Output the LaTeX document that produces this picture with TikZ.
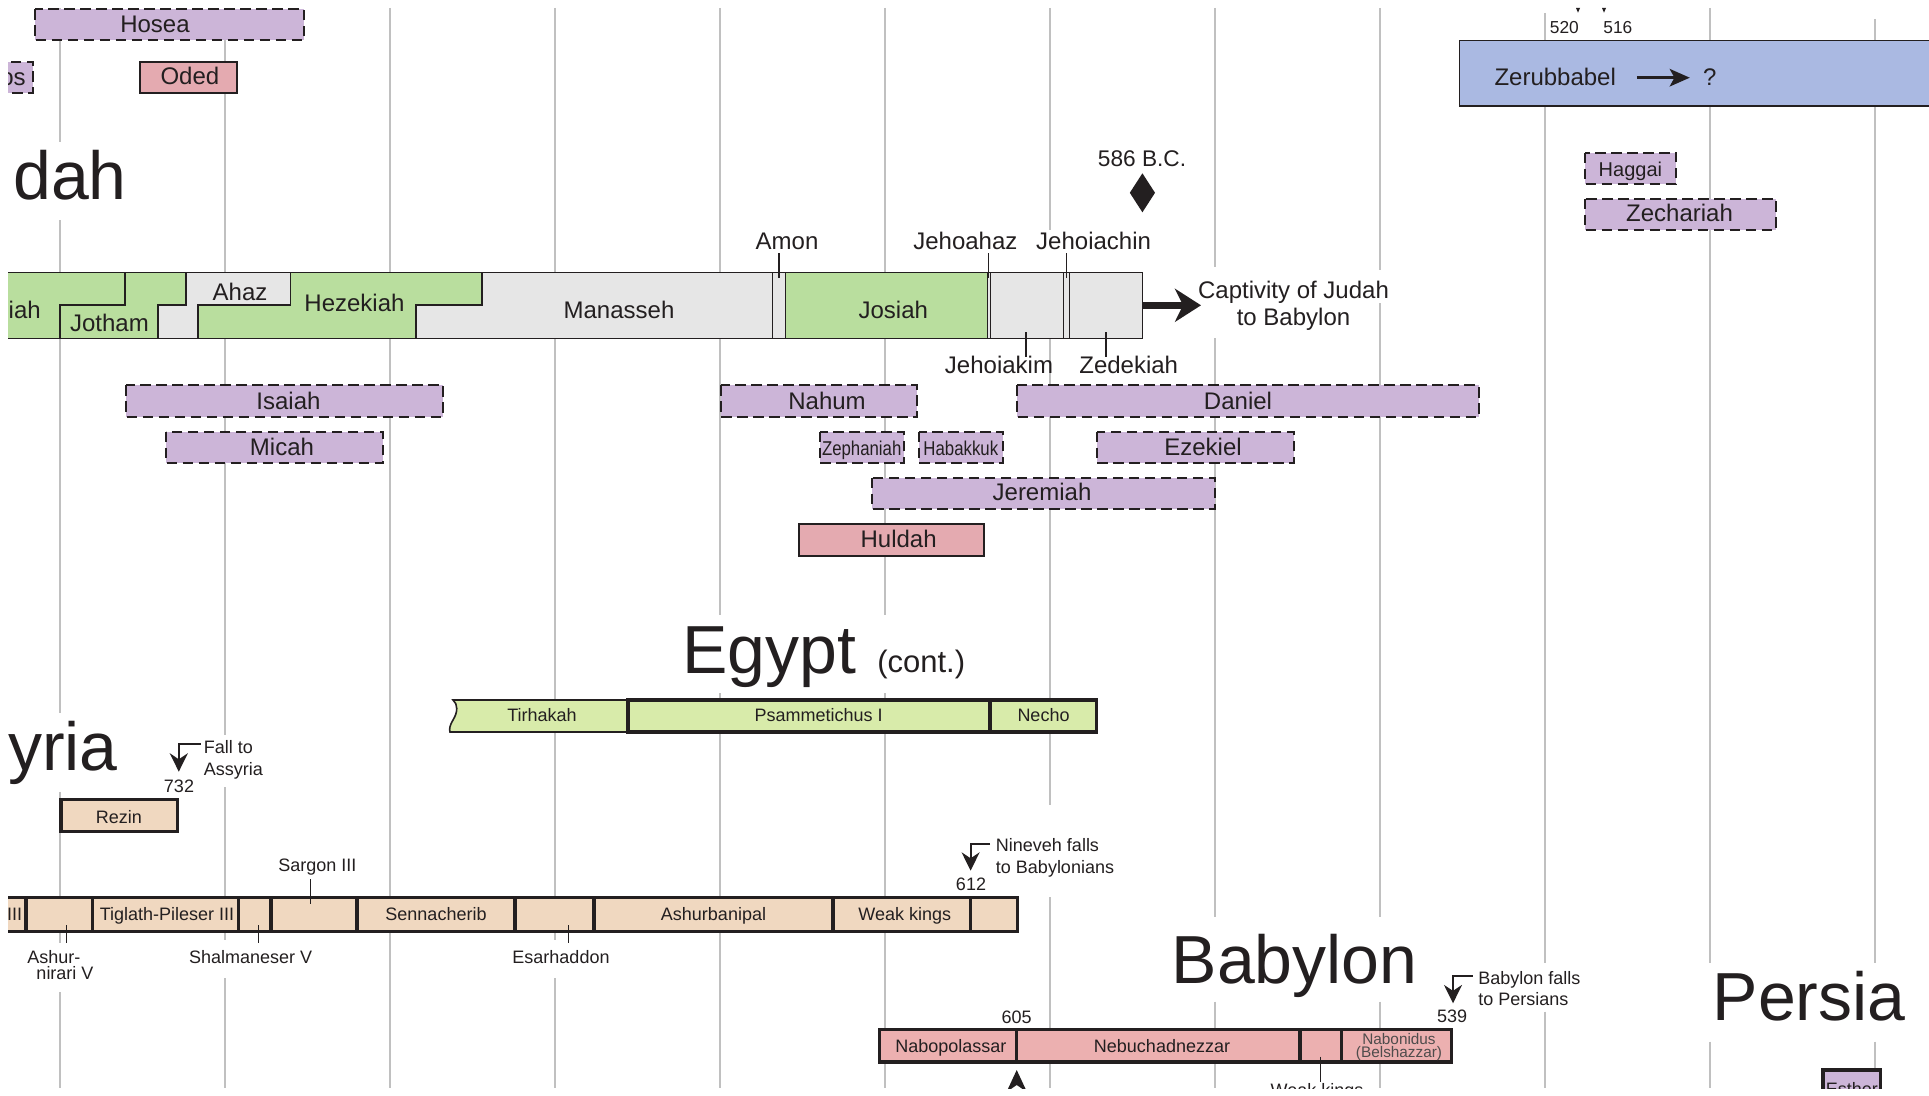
\documentclass[tikz,border=0pt]{standalone}
\usepackage{fontspec}
\setmainfont{Liberation Sans}
\newfontfamily\narrowfont[FakeStretch=0.84]{Liberation Sans}
\usetikzlibrary{arrows.meta}
\definecolor{ink}{HTML}{231F20}
\definecolor{gridc}{HTML}{C0C0C0}
\definecolor{prop}{HTML}{CCB5D8}
\definecolor{pinkp}{HTML}{E4AAB0}
\definecolor{jgreen}{HTML}{B9DE9E}
\definecolor{jgray}{HTML}{E6E6E6}
\definecolor{egreen}{HTML}{D8EBAA}
\definecolor{peach}{HTML}{F0D8C0}
\definecolor{bpink}{HTML}{ECB0B0}
\definecolor{zblue}{HTML}{AAB9E2}
\tikzset{
  gridline/.style={draw=gridc, line width=1.5pt},
  prophet/.style={fill=prop, draw=ink, line width=1.5pt, dash pattern=on 8pt off 4pt},
  prophetess/.style={fill=pinkp, draw=ink, line width=1.5pt},
  jking/.style={draw=ink, line width=0.9pt},
  kbar/.style={draw=ink, line width=2.6pt},
  lbl/.style={font=\fontsize{18}{21}\selectfont, text=ink, inner sep=0pt, anchor=base},
  slbl/.style={font=\fontsize{13.5}{16}\selectfont, text=ink, inner sep=0pt, anchor=base},
  bigtitle/.style={font=\fontsize{51}{60}\selectfont, text=ink, inner sep=0pt, anchor=base west},
  tickline/.style={draw=ink, line width=0.9pt},
  annot/.style={draw=ink, line width=1.5pt, -{Stealth[length=13.8pt,width=13.5pt,inset=4.5pt]}},
}
\begin{document}
\begin{tikzpicture}[x=0.75pt,y=-0.75pt]
\useasboundingbox (0,0) rectangle (1929,1095);
\fill[white] (0,0) rectangle (1929,1095);
\begin{scope}
\clip (8,8) rectangle (1929,1088);
% ---------- grid lines ----------
\draw[gridline] (60,8)--(60,141.7) (60,220)--(60,712.7) (60,791.7)--(60,943) (60,992)--(60,1088);
\draw[gridline] (225,8)--(225,735) (225,787)--(225,940) (225,978)--(225,1088);
\draw[gridline] (390,8)--(390,1088);
\draw[gridline] (555,8)--(555,940) (555,978)--(555,1088);
\draw[gridline] (720,8)--(720,615) (720,693)--(720,1088);
\draw[gridline] (885,8)--(885,615) (885,693)--(885,1088);
\draw[gridline] (1050,8)--(1050,230) (1050,272)--(1050,805) (1050,897)--(1050,1088);
\draw[gridline] (1215,8)--(1215,266.7) (1215,338.3)--(1215,916.7) (1215,1001.7)--(1215,1088);
\draw[gridline] (1380,8)--(1380,270) (1380,303)--(1380,916.7) (1380,1001.7)--(1380,1088);
\draw[gridline] (1545,13)--(1545,963.3) (1545,1011.7)--(1545,1088);
\draw[gridline] (1710,8)--(1710,963.3) (1710,1041.7)--(1710,1088);
\draw[gridline] (1875,19)--(1875,963.3) (1875,1041.7)--(1875,1088);

% ---------- titles ----------
\node[bigtitle] (tJudah) at (13,199.3) {dah};
\node[bigtitle, anchor=base east] (tAssyria) at (118,770) {yria};
\node[bigtitle] (tEgypt) at (682,673.3) {Egypt};
\node[font=\fontsize{23.25}{28}\selectfont, text=ink, inner sep=0pt, anchor=base west] (tCont) at (877,672.5) {(cont.)};
\node[bigtitle] (tBabylon) at (1171.5,983.3) {Babylon};
\node[bigtitle] (tPersia) at (1712.5,1020.7) {Persia};

% ---------- top prophets ----------
\draw[prophet] (34.5,9.3) rectangle (303.5,40.3);
\node[lbl] (hosea) at (155,32.3) {Hosea};
\draw[prophet] (-36,61.7) rectangle (33,93.3);
\node[lbl, anchor=base east] (amos) at (26,86) {os};
\draw[prophetess] (140,61.7) rectangle (237,93.3);
\node[lbl] (oded) at (189.9,85) {Oded};

% ---------- Zerubbabel ----------
\draw[fill=zblue, draw=ink, line width=1.1pt] (1459.5,40.7) rectangle (1940,106);
\node[lbl] (zerub) at (1555.2,85.7) {Zerubbabel};
\node[lbl] (zq) at (1709.7,85.7) {?};
\coordinate (zarrA) at (1636.8,77.7);
\coordinate (zarrB) at (1689.8,77.7);
\draw[ink, line width=2.5pt, -{Stealth[length=15pt,width=13pt,inset=3.5pt]}] (zarrA) -- (zarrB);
\node[font=\fontsize{13}{15}\selectfont, text=ink, inner sep=0pt, anchor=base] (y520) at (1564.3,33.3) {520};
\node[font=\fontsize{13}{15}\selectfont, text=ink, inner sep=0pt, anchor=base] (y516) at (1617.8,33.3) {516};
\fill[ink] (1576,8) -- (1580,8) -- (1578,12.7) -- cycle;
\fill[ink] (1602,8) -- (1606,8) -- (1604,12.7) -- cycle;

\draw[prophet] (1585,152.7) rectangle (1676,184);
\node[font=\fontsize{15}{18}\selectfont, text=ink, inner sep=0pt, anchor=base] (haggai) at (1630.4,176.7) {Haggai};
\draw[prophet] (1585,198.7) rectangle (1775.7,230);
\node[lbl] (zech) at (1679.5,221.7) {Zechariah};

% ---------- 586 B.C. ----------
\node[font=\fontsize{17}{20}\selectfont, text=ink, inner sep=0pt, anchor=base] (bc586) at (1142,166.7) {586 B.C.};
\fill[ink] (1142.4,173.3) -- (1155,192.8) -- (1142.4,212.3) -- (1129.8,192.8) -- cycle;

% ---------- Judah bar ----------
\filldraw[jking, fill=jgreen] (-10,272.3) -- (125,272.3) -- (125,305) -- (60,305) -- (60,338.3) -- (-10,338.3) -- cycle;
\filldraw[jking, fill=jgreen] (125,272.3) -- (186,272.3) -- (186,305) -- (158,305) -- (158,338.3) -- (60,338.3) -- (60,305) -- (125,305) -- cycle;
\filldraw[jking, fill=jgray] (186,272.3) -- (290.6,272.3) -- (290.6,305) -- (198,305) -- (198,338.3) -- (158,338.3) -- (158,305) -- (186,305) -- cycle;
\filldraw[jking, fill=jgreen] (290.6,272.3) -- (482,272.3) -- (482,305) -- (416,305) -- (416,338.3) -- (198,338.3) -- (198,305) -- (290.6,305) -- cycle;
\filldraw[jking, fill=jgray] (482,272.3) -- (772.7,272.3) -- (772.7,338.3) -- (416,338.3) -- (416,305) -- (482,305) -- cycle;
\filldraw[jking, fill=jgray] (772.7,272.3) rectangle (785.7,338.3);
\filldraw[jking, fill=jgreen] (785.7,272.3) rectangle (987.3,338.3);
\filldraw[jking, fill=jgray] (987.3,272.3) rectangle (990.2,338.3);
\filldraw[jking, fill=jgray] (990.2,272.3) rectangle (1063.7,338.3);
\filldraw[jking, fill=jgray] (1063.7,272.3) rectangle (1069.4,338.3);
\filldraw[jking, fill=jgray] (1069.4,272.3) rectangle (1142.4,338.3);

\node[lbl, anchor=base east] (uzziah) at (41,318.3) {iah};
\node[lbl] (jotham) at (109.4,331.7) {Jotham};
\node[lbl] (ahaz) at (240,300.7) {Ahaz};
\node[lbl] (hezekiah) at (354.5,311.7) {Hezekiah};
\node[lbl] (manasseh) at (619,318.3) {Manasseh};
\node[lbl] (josiah) at (893.3,318.3) {Josiah};

\node[lbl] (amon) at (787,249.3) {Amon};
\node[lbl] (jehoahaz) at (965.4,249.3) {Jehoahaz};
\node[lbl] (jehoiachin) at (1093.6,249.3) {Jehoiachin};
\node[lbl] (jehoiakim) at (999,373.7) {Jehoiakim};
\node[lbl] (zedekiah) at (1128.7,373.7) {Zedekiah};
\draw[tickline] (779,253) -- (779,278);
\draw[tickline] (988.8,253) -- (988.8,278);
\draw[tickline] (1066.5,253) -- (1066.5,278);
\draw[tickline] (1026,332) -- (1026,357);
\draw[tickline] (1105.9,332) -- (1105.9,357);

\coordinate (judahEnd) at (1142.4,305.3);
\coordinate (captTip) at (1201,305.3);
\draw[ink, line width=5pt, -{Stealth[length=19.5pt,width=24.75pt,inset=6pt]}] (judahEnd) -- (captTip);
\node[lbl] (captA) at (1293.5,298.3) {Captivity of Judah};
\node[lbl] (captB) at (1293.5,325) {to Babylon};

% ---------- lower prophets ----------
\draw[prophet] (126.3,385.3) rectangle (442.7,417);
\node[lbl] (isaiah) at (288.5,409) {Isaiah};
\draw[prophet] (166.3,431.7) rectangle (382.7,463.3);
\node[lbl] (micah) at (282,455) {Micah};
\draw[prophet] (720.6,385.3) rectangle (917.4,417);
\node[lbl] (nahum) at (827,409) {Nahum};
\draw[prophet] (1017.3,385.3) rectangle (1478.5,417);
\node[lbl] (daniel) at (1238,409) {Daniel};
\draw[prophet] (819.8,431.7) rectangle (904.3,463.3);
\node[font=\fontsize{15}{18}\narrowfont, text=ink, inner sep=0pt, anchor=base] (zeph) at (861.7,455) {Zephaniah};
\draw[prophet] (918.6,431.7) rectangle (1003,463.3);
\node[font=\fontsize{15}{18}\narrowfont, text=ink, inner sep=0pt, anchor=base] (habak) at (960.8,455) {Habakkuk};
\draw[prophet] (1097,431.7) rectangle (1293.5,463.3);
\node[lbl] (ezekiel) at (1203,455) {Ezekiel};
\draw[prophet] (872.4,477.7) rectangle (1214.5,509);
\node[lbl] (jeremiah) at (1042,500.7) {Jeremiah};
\draw[prophetess] (799.4,523.7) rectangle (983.5,555.7);
\node[lbl] (huldah) at (898.6,547.7) {Huldah};

% ---------- Egypt bar ----------
\filldraw[fill=egreen, draw=ink, line width=1.2pt] (627.8,700) -- (453,700) .. controls (458,704) and (458,712) .. (453,720) .. controls (450,725) and (449,729) .. (450,732) -- (627.8,732) -- cycle;
\filldraw[kbar, fill=egreen] (627.8,700) rectangle (1096.3,732);
\draw[kbar] (990.2,700) -- (990.2,732);
\node[slbl] (tirhakah) at (542,721.7) {Tirhakah};
\node[slbl] (psamm) at (818.6,721.7) {Psammetichus I};
\node[slbl] (necho) at (1043.5,721.7) {Necho};

% ---------- Syria / Assyria ----------
\coordinate (fallA) at (200.5,744.3);
\coordinate (fallTip) at (178.8,771.7);
\draw[annot] (fallA) -| (fallTip);
\node[slbl, anchor=base west] (fallT1) at (203.5,753.3) {Fall to};
\node[slbl, anchor=base west] (fallT2) at (203.5,775) {Assyria};
\node[slbl] (y732) at (179,792.7) {732};
\filldraw[kbar, fill=peach] (61,799.3) rectangle (177.5,831.7);
\node[slbl] (rezin) at (119,823.3) {Rezin};

\node[slbl] (sargon) at (317.4,871.7) {Sargon III};
\filldraw[kbar, fill=peach] (-10,897.5) rectangle (1017.6,931.3);
\foreach \xd in {26.1,92.7,238.4,271,357.1,515.1,594.2,832.9,970.6}
  \draw[kbar] (\xd,897.5) -- (\xd,931.3);
\draw[tickline] (310.2,879.3) -- (310.2,904.3);
\node[slbl, anchor=base east] (ash3) at (22.5,920) {III};
\node[slbl] (tiglath) at (167,920) {Tiglath-Pileser III};
\node[slbl] (sennach) at (436,920) {Sennacherib};
\node[slbl] (ashurb) at (713.5,920) {Ashurbanipal};
\node[slbl] (weakA) at (904.7,920) {Weak kings};
\draw[tickline] (66.6,925) -- (66.6,943.3);
\draw[tickline] (258.4,925) -- (258.4,943.3);
\draw[tickline] (568.6,925) -- (568.6,943.3);
\node[slbl] (ashurn1) at (53.8,963.3) {Ashur-};
\node[slbl] (ashurn2) at (65,979) {nirari V};
\node[slbl] (shalm) at (250.6,963.3) {Shalmaneser V};
\node[slbl] (esarh) at (561,963.3) {Esarhaddon};

\coordinate (ninA) at (990.2,844.3);
\coordinate (ninTip) at (970.6,870.7);
\draw[annot] (ninA) -| (ninTip);
\node[slbl, anchor=base west] (ninT1) at (995.7,851.7) {Nineveh falls};
\node[slbl, anchor=base west] (ninT2) at (995.7,873.3) {to Babylonians};
\node[slbl] (y612) at (971,890.7) {612};

% ---------- Babylon ----------
\coordinate (babA) at (1472.5,976);
\coordinate (babTip) at (1453,1003.3);
\draw[annot] (babA) -| (babTip);
\node[slbl, anchor=base west] (babT1) at (1478,984) {Babylon falls};
\node[slbl, anchor=base west] (babT2) at (1478,1005.7) {to Persians};
\node[slbl] (y539) at (1452,1022.7) {539};
\node[slbl] (y605) at (1016.7,1023.3) {605};

\filldraw[kbar, fill=bpink] (879.3,1029.7) rectangle (1451.3,1062);
\foreach \xd in {1016.7,1300,1341.3}
  \draw[kbar] (\xd,1029.7) -- (\xd,1062);
\node[slbl] (nabop) at (950.8,1052.7) {Nabopolassar};
\node[slbl] (nebuch) at (1162,1052.7) {Nebuchadnezzar};
\node[font=\fontsize{11.5}{12.5}\selectfont, text=ink!80, inner sep=0pt, anchor=base] (nabon1) at (1399,1044) {Nabonidus};
\node[font=\fontsize{11.5}{12.5}\selectfont, text=ink!80, inner sep=0pt, anchor=base] (nabon2) at (1399,1057) {(Belshazzar)};
\draw[tickline] (1320.6,1056.7) -- (1320.6,1081.7);
\node[slbl] (weakB) at (1317,1096.6) {Weak kings};
\fill[ink] (1016.7,1070) -- (1027,1092) -- (1016.7,1085) -- (1006.5,1092) -- cycle;

% ---------- Persia ----------
\filldraw[kbar, fill=prop] (1823,1070) rectangle (1880.5,1120);
\node[slbl] (esther) at (1851.8,1095.5) {Esther};
\end{scope}
\end{tikzpicture}
\end{document}
